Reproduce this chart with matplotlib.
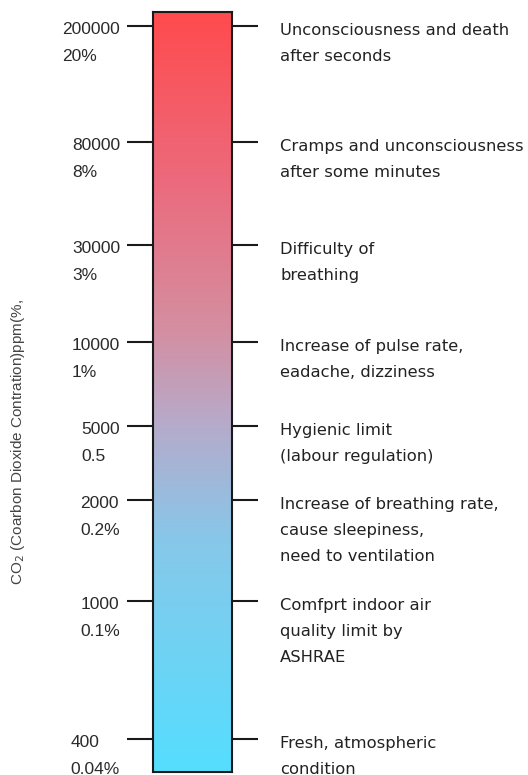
import matplotlib
matplotlib.use("Agg")
import matplotlib.pyplot as plt
import numpy as np
from matplotlib.colors import LinearSegmentedColormap
from matplotlib.transforms import blended_transform_factory

# ---- data ----
ppm_labels = ["400", "1000", "2000", "5000", "10000", "30000", "80000", "200000"]
pct_labels = ["0.04%", "0.1%", "0.2%", "0.5", "1%", "3%", "8%", "20%"]
# position of each level along the bar (bar runs 0 .. 760)
level_pos = [33, 171, 272, 346, 430, 527, 630, 746]
effects = [
    "Fresh, atmospheric\ncondition",
    "Comfprt indoor air\nquality limit by\nASHRAE",
    "Increase of breathing rate,\ncause sleepiness,\nneed to ventilation",
    "Hygienic limit\n(labour regulation)",
    "Increase of pulse rate,\neadache, dizziness",
    "Difficulty of\nbreathing",
    "Cramps and unconsciousness\nafter some minutes",
    "Unconsciousness and death\nafter seconds",
]
ylabel = "CO$_2$ (Coarbon Dioxide Contration)ppm(%,"
bar_range = (0, 760)

# gradient stops (bottom -> top)
grad_stops = [(0.0, "#55DEFF"), (0.30, "#86C8EA"), (0.46, "#B7AACA"),
              (0.58, "#D48FA2"), (0.78, "#EC6A7C"), (1.0, "#FF4B4E")]

W, H = 528, 775
fig = plt.figure(figsize=(W / 100, H / 100), dpi=100)
ax = fig.add_axes([153 / W, (H - 772) / H, (232 - 153) / W, 760 / H])

cmap = LinearSegmentedColormap.from_list("co2", grad_stops)
grad = np.linspace(0, 1, 512).reshape(-1, 1)
ax.imshow(grad, cmap=cmap, aspect="auto", origin="lower",
          extent=[0, 1, bar_range[0], bar_range[1]], interpolation="bicubic")
ax.set_xlim(0, 1)
ax.set_ylim(*bar_range)
ax.set_xticks([])
ax.set_yticks(level_pos)
ax.set_yticklabels([])
ax.tick_params(axis="y", left=True, right=True, direction="out",
               length=18.5, width=1.5, color="#1a1a1a")
for s in ax.spines.values():
    s.set_linewidth(1.5)
    s.set_color("#1a1a1a")

trans = blended_transform_factory(ax.transAxes, ax.transData)
left_x = (120 - 153) / 79
right_x = (280 - 153) / 79
for pos, num, pct in zip(level_pos, ppm_labels, pct_labels):
    ax.text(left_x, pos + 4, num + "\n" + pct, transform=trans,
            ha="right", va="top", multialignment="left",
            fontsize=12.5, family=["Liberation Sans", "DejaVu Sans"],
            color="#2a2a2a", linespacing=2.02, clip_on=False)
for pos, eff in zip(level_pos, effects):
    ax.text(right_x, pos + 3, eff, transform=trans,
            ha="left", va="top", multialignment="left",
            fontsize=11.8, family=["DejaVu Sans"],
            color="#222222", linespacing=1.92, clip_on=False)

fig.text(18 / W, 1 - 442 / H, ylabel, rotation=90, ha="center", va="center",
         fontsize=11, family=["Liberation Sans", "DejaVu Sans"], color="#444444")

fig.savefig("out.png", dpi=100)
